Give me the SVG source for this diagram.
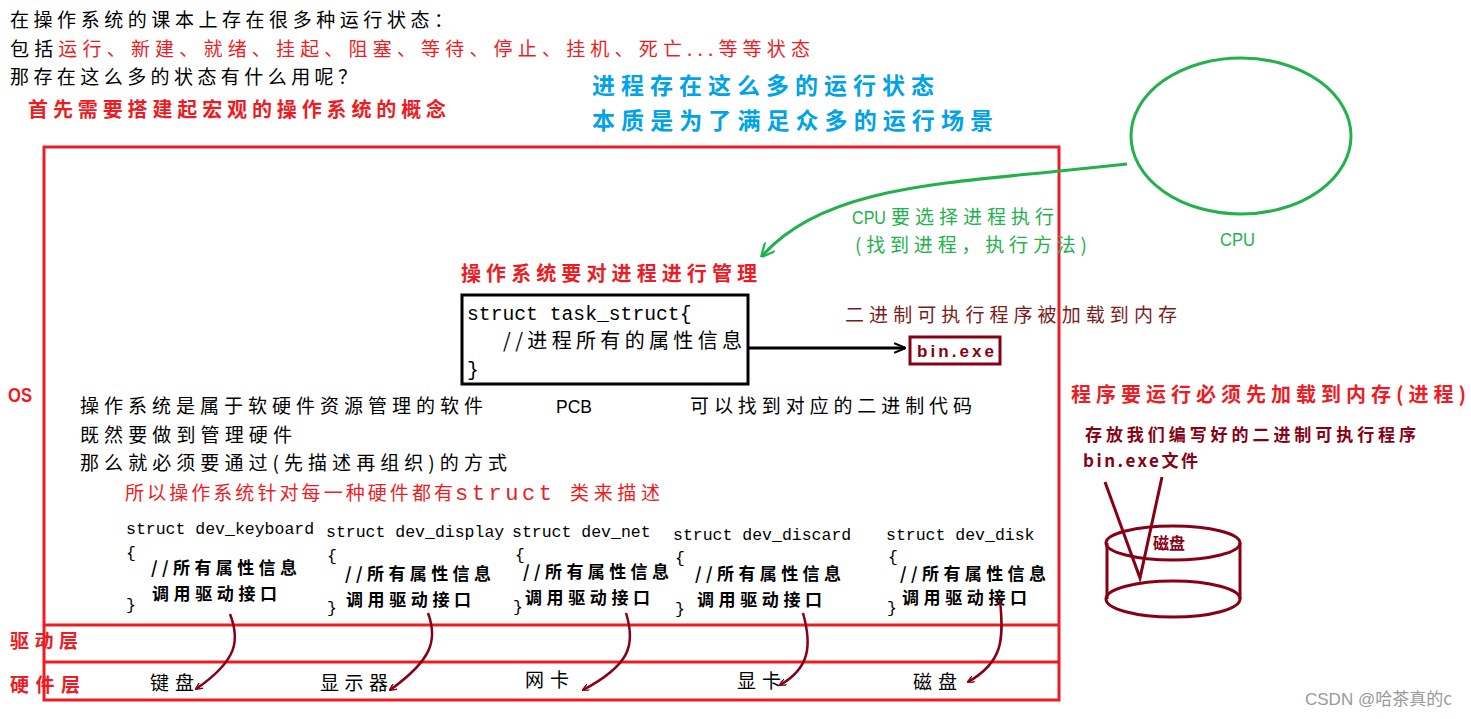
<svg xmlns="http://www.w3.org/2000/svg" width="1471" height="719" viewBox="0 0 1471 719">
<style>
.cjk{font-family:"Noto Sans CJK SC","Liberation Sans",sans-serif}
.mono{font-family:"Liberation Mono","Noto Sans CJK SC",monospace}
.sans{font-family:"Liberation Sans","Noto Sans CJK SC",sans-serif}
.blk{fill:#000}
.red{fill:#ed1c24}
.mar{fill:#880015}
.grn{fill:#22b14c}
.blu{fill:#00a2e8}
.b{font-weight:bold}
.frame{fill:none;stroke:#ed1c24;stroke-width:3}
.marl{fill:none;stroke:#880015;stroke-width:3}
</style>
<defs>
<marker id="amar" viewBox="0 0 10 10" refX="9" refY="5" markerWidth="7" markerHeight="7" orient="auto" markerUnits="userSpaceOnUse">
<path d="M0,0 L10,5 L0,10" fill="none" stroke="#880015" stroke-width="2"/>
</marker>
<marker id="agrn" viewBox="0 0 10 10" refX="9" refY="5" markerWidth="14" markerHeight="14" orient="auto" markerUnits="userSpaceOnUse">
<path d="M0,0 L10,5 L0,10" fill="none" stroke="#22b14c" stroke-width="1.6"/>
</marker>
<marker id="ablk" viewBox="0 0 10 10" refX="9" refY="5" markerWidth="12" markerHeight="12" orient="auto" markerUnits="userSpaceOnUse">
<path d="M0,1 L10,5 L0,9" fill="none" stroke="#000" stroke-width="1.6"/>
</marker>
</defs>
<rect width="1471" height="719" fill="#fff"/>

<g id="intro" class="cjk">
<text x="10" y="27" font-size="19" class="blk" textLength="443" lengthAdjust="spacing">在操作系统的课本上存在很多种运行状态：</text>
<text x="10" y="56" font-size="19" class="blk" textLength="800" lengthAdjust="spacing">包括<tspan class="red">运行、新建、就绪、挂起、阻塞、等待、停止、挂机、死亡...等等状态</tspan></text>
<text x="10" y="84" font-size="19" class="blk" textLength="347" lengthAdjust="spacing">那存在这么多的状态有什么用呢？</text>
<text x="28" y="117" font-size="20" class="red b" textLength="418" lengthAdjust="spacing">首先需要搭建起宏观的操作系统的概念</text>
<text x="592" y="94" font-size="23" class="blu b" textLength="342" lengthAdjust="spacing">进程存在这么多的运行状态</text>
<text x="592" y="129" font-size="23" class="blu b" textLength="401" lengthAdjust="spacing">本质是为了满足众多的运行场景</text>
</g>

<g id="os-frame">
<rect x="44" y="147" width="1015" height="553" class="frame"/>
<line x1="44" y1="625" x2="1059" y2="625" stroke="#ed1c24" stroke-width="3"/>
<line x1="44" y1="662" x2="1059" y2="662" stroke="#ed1c24" stroke-width="3"/>
<text x="8" y="402" font-size="20" class="sans red b" textLength="24" lengthAdjust="spacingAndGlyphs">OS</text>
<text x="10" y="648" font-size="19" class="cjk red b" textLength="68" lengthAdjust="spacing">驱动层</text>
<text x="10" y="692" font-size="19" class="cjk red b" textLength="70" lengthAdjust="spacing">硬件层</text>
</g>

<g id="cpu">
<ellipse cx="1241" cy="136" rx="110" ry="78" fill="none" stroke="#22b14c" stroke-width="3"/>
<text x="1220" y="246" font-size="19" class="sans grn" textLength="35" lengthAdjust="spacingAndGlyphs">CPU</text>
</g>

<g id="cpu-note" class="grn">
<text x="852" y="224" font-size="17.5" class="sans" textLength="34" lengthAdjust="spacingAndGlyphs">CPU</text>
<text x="891" y="224" font-size="19" class="cjk" textLength="163" lengthAdjust="spacing">要选择进程执行</text>
<text x="855" y="252" font-size="19" class="cjk" textLength="232" lengthAdjust="spacing">(找到进程，执行方法)</text>
</g>

<g id="pcb">
<text x="461" y="281" font-size="20" class="cjk red b" textLength="296" lengthAdjust="spacing">操作系统要对进程进行管理</text>
<rect x="462" y="295" width="286" height="89" fill="#fff" stroke="#000" stroke-width="3"/>
<text x="467" y="320" font-size="19.7" class="mono blk">struct task_struct{</text>
<text x="503" y="348" font-size="20" class="cjk blk" textLength="239" lengthAdjust="spacing">//进程所有的属性信息</text>
<text x="467" y="376" font-size="19.7" class="mono blk">}</text>
<text x="556" y="413" font-size="18" class="sans blk" textLength="36" lengthAdjust="spacingAndGlyphs">PCB</text>
</g>

<g id="binexe">
<text x="845" y="322" font-size="19" class="cjk" fill="#7a1c1c" textLength="332" lengthAdjust="spacing">二进制可执行程序被加载到内存</text>
<rect x="910" y="337" width="90" height="27" class="marl"/>
<text x="917" y="357" font-size="17" class="sans mar b" textLength="77" lengthAdjust="spacing">bin.exe</text>
<text x="690" y="413" font-size="19" class="cjk blk" textLength="282" lengthAdjust="spacing">可以找到对应的二进制代码</text>
</g>

<g id="explain" class="cjk">
<text x="80" y="413" font-size="19" class="blk" textLength="403" lengthAdjust="spacing">操作系统是属于软硬件资源管理的软件</text>
<text x="80" y="442" font-size="19" class="blk" textLength="212" lengthAdjust="spacing">既然要做到管理硬件</text>
<text x="80" y="470" font-size="19" class="blk" textLength="427" lengthAdjust="spacing">那么就必须要通过(先描述再组织)的方式</text>
<text y="500" font-size="19" class="red"><tspan x="125" textLength="328" lengthAdjust="spacing">所以操作系统针对每一种硬件都有</tspan><tspan x="455" class="mono" font-size="22" textLength="97" lengthAdjust="spacing">struct</tspan><tspan x="570" textLength="90" lengthAdjust="spacing">类来描述</tspan></text>
</g>

<g id="dev-keyboard">
<text x="126" y="534" font-size="16.5" class="mono blk">struct dev_keyboard</text>
<text x="126" y="558" font-size="16.5" class="mono blk">{</text>
<text x="151" y="574" font-size="17" class="cjk blk b" textLength="146" lengthAdjust="spacing">//所有属性信息</text>
<text x="152" y="600" font-size="17" class="cjk blk b" textLength="125" lengthAdjust="spacing">调用驱动接口</text>
<text x="126" y="610" font-size="16.5" class="mono blk">}</text>
</g>
<g id="dev-display">
<text x="326" y="537" font-size="16.5" class="mono blk">struct dev_display</text>
<text x="327" y="561" font-size="16.5" class="mono blk">{</text>
<text x="345" y="580" font-size="17" class="cjk blk b" textLength="146" lengthAdjust="spacing">//所有属性信息</text>
<text x="346" y="606" font-size="17" class="cjk blk b" textLength="125" lengthAdjust="spacing">调用驱动接口</text>
<text x="327" y="613" font-size="16.5" class="mono blk">}</text>
</g>
<g id="dev-net">
<text x="512" y="537" font-size="16.5" class="mono blk">struct dev_net</text>
<text x="515" y="560" font-size="16.5" class="mono blk">{</text>
<text x="523" y="578" font-size="17" class="cjk blk b" textLength="146" lengthAdjust="spacing">//所有属性信息</text>
<text x="525" y="604" font-size="17" class="cjk blk b" textLength="125" lengthAdjust="spacing">调用驱动接口</text>
<text x="513" y="612" font-size="16.5" class="mono blk">}</text>
</g>
<g id="dev-discard">
<text x="673" y="540" font-size="16.5" class="mono blk">struct dev_discard</text>
<text x="675" y="563" font-size="16.5" class="mono blk">{</text>
<text x="695" y="580" font-size="17" class="cjk blk b" textLength="146" lengthAdjust="spacing">//所有属性信息</text>
<text x="697" y="606" font-size="17" class="cjk blk b" textLength="125" lengthAdjust="spacing">调用驱动接口</text>
<text x="675" y="614" font-size="16.5" class="mono blk">}</text>
</g>
<g id="dev-disk">
<text x="886" y="540" font-size="16.5" class="mono blk">struct dev_disk</text>
<text x="888" y="562" font-size="16.5" class="mono blk">{</text>
<text x="900" y="580" font-size="17" class="cjk blk b" textLength="146" lengthAdjust="spacing">//所有属性信息</text>
<text x="902" y="604" font-size="17" class="cjk blk b" textLength="125" lengthAdjust="spacing">调用驱动接口</text>
<text x="887" y="613" font-size="16.5" class="mono blk">}</text>
</g>

<g id="hardware" class="cjk blk" font-size="19">
<text x="150" y="690" textLength="44" lengthAdjust="spacing">键盘</text>
<text x="320" y="690" textLength="68" lengthAdjust="spacing">显示器</text>
<text x="525" y="687" textLength="44" lengthAdjust="spacing">网卡</text>
<text x="737" y="688" textLength="44" lengthAdjust="spacing">显卡</text>
<text x="913" y="689" textLength="44" lengthAdjust="spacing">磁盘</text>
</g>

<g id="disk">
<text x="1071" y="402" font-size="20" class="cjk red b" textLength="395" lengthAdjust="spacing">程序要运行必须先加载到内存(进程)</text>
<text x="1085" y="441" font-size="17" class="cjk mar b" textLength="331" lengthAdjust="spacing">存放我们编写好的二进制可执行程序</text>
<text x="1083" y="467" font-size="17" class="cjk mar b" textLength="115" lengthAdjust="spacing">bin.exe文件</text>
<path d="M1107,543 L1107,599 M1240,543 L1240,599" class="marl"/>
<ellipse cx="1173" cy="543" rx="67" ry="17" class="marl"/>
<ellipse cx="1173" cy="599" rx="67" ry="18" class="marl"/>
<text x="1153" y="549" font-size="16" class="cjk mar b">磁盘</text>
<path d="M1105,482 L1140,578 L1162,477" class="marl"/>
</g>

<g id="connectors">
<path d="M1127,164 L1060,171 C930,184 820,190 762,256" fill="none" stroke="#22b14c" stroke-width="3" marker-end="url(#agrn)"/>
<line x1="748" y1="348" x2="905" y2="348" stroke="#000" stroke-width="3" marker-end="url(#ablk)"/>
<path d="M230,614 C240,640 238,660 196,689" fill="none" stroke="#880015" stroke-width="2.5" marker-end="url(#amar)"/>
<path d="M428,613 C438,640 432,660 390,690" fill="none" stroke="#880015" stroke-width="2.5" marker-end="url(#amar)"/>
<path d="M626,613 C636,645 630,665 583,690" fill="none" stroke="#880015" stroke-width="2.5" marker-end="url(#amar)"/>
<path d="M803,613 C812,645 810,668 780,685" fill="none" stroke="#880015" stroke-width="2.5" marker-end="url(#amar)"/>
<path d="M1000,600 C1004,640 1003,662 968,682" fill="none" stroke="#880015" stroke-width="2.5" marker-end="url(#amar)"/>
</g>

<text y="705" font-size="17" fill="#999"><tspan x="1305" class="sans">CSDN @</tspan><tspan class="cjk">哈茶真的c</tspan></text>
</svg>
